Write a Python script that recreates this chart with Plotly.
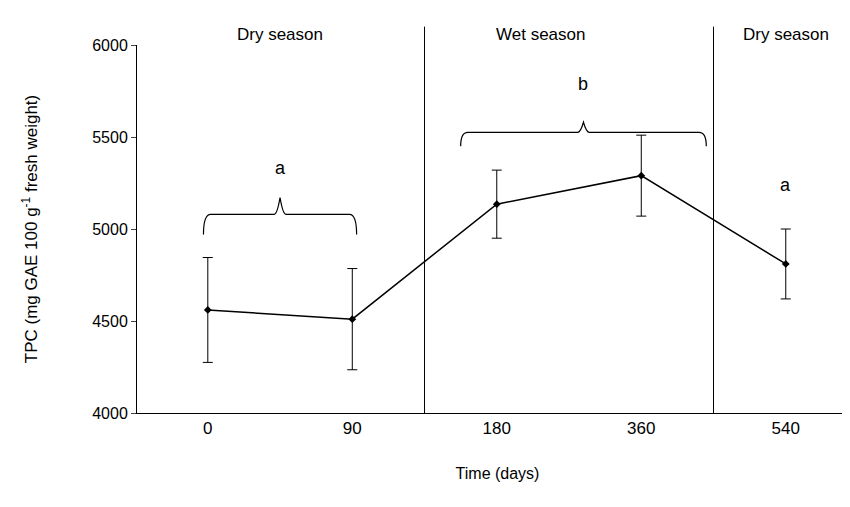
import plotly.graph_objects as go

days = ["0", "90", "180", "360", "540"]
tpc = [4560, 4510, 5135, 5290, 4810]
err = [285, 275, 185, 220, 190]
seasons = ["Dry season", "Wet season", "Dry season"]
season_x = [0.5, 2.3, 3.69]
letters = ["a", "b", "a"]
letter_x = [0.5, 2.6, 4.0]
letter_y = [5330, 5790, 5240]

xpos = list(range(len(days)))
fnt = "Liberation Sans, Arial, sans-serif"

fig = go.Figure(go.Scatter(
    x=xpos, y=tpc, mode="lines+markers",
    line=dict(color="black", width=1.5),
    marker=dict(symbol="diamond", size=6, color="black"),
    error_y=dict(type="data", array=err, color="black", thickness=1, width=5),
))

def brace(x0, x1, y0, y1, tip):
    xm = (x0 + x1) / 2
    d = 0.02
    return (f"M {x0},{y0} Q {x0},{y1} {x0+0.05},{y1} L {xm-0.04},{y1} "
            f"Q {xm-d},{y1} {xm},{tip} Q {xm+d},{y1} {xm+0.04},{y1} "
            f"L {x1-0.05},{y1} Q {x1},{y1} {x1},{y0}")

shapes = [
    dict(type="path", path=brace(-0.03, 1.03, 4970, 5080, 5170), line=dict(color="black", width=1.2)),
    dict(type="path", path=brace(1.75, 3.45, 5450, 5525, 5580), line=dict(color="black", width=1.2)),
]
for xv in [1.5, 3.5]:
    shapes.append(dict(type="line", x0=xv, x1=xv, yref="paper", y0=0, y1=1.05,
                       line=dict(color="black", width=1)))

ann = []
for i, (s, sx) in enumerate(zip(seasons, season_x)):
    ann.append(dict(x=sx, y=1.06, yref="paper", text=s, showarrow=False,
                    xanchor="left" if i == 2 else "center",
                    font=dict(size=17, family=fnt, color="black")))
for l, lx, ly in zip(letters, letter_x, letter_y):
    ann.append(dict(x=lx, y=ly, text=l, showarrow=False,
                    font=dict(size=18, family=fnt, color="black")))

fig.update_layout(
    width=850, height=507, plot_bgcolor="white", paper_bgcolor="white",
    margin=dict(l=129, r=0, t=37, b=102, autoexpand=False), showlegend=False,
    shapes=shapes, annotations=ann,
    font=dict(family=fnt, size=16, color="black"),
    xaxis=dict(range=[-0.49, 4.5], tickvals=xpos, ticktext=days, showline=True,
               linecolor="black", showgrid=False, zeroline=False, ticks="",
               automargin=False,
               title=dict(text="Time (days)", standoff=30, font=dict(size=16)),
               tickfont=dict(size=17)),
    yaxis=dict(range=[4000, 6000], dtick=500, showline=True, linecolor="black",
               showgrid=False, zeroline=False, ticks="outside", ticklen=5,
               automargin=False, tickfont=dict(size=16),
               title=dict(text="TPC (mg GAE 100 g<sup>-1</sup> fresh weight)", standoff=50,
                          font=dict(size=17))),
)
fig.write_html("out.html")
